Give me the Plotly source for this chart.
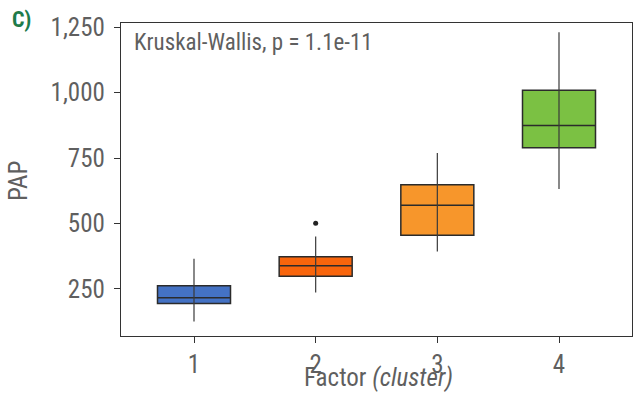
import plotly.graph_objects as go

clusters = [1, 2, 3, 4]
q1 = [194, 298, 455, 789]
median = [216, 338, 570, 874]
q3 = [262, 373, 648, 1009]
lower_whisker = [125, 236, 393, 632]
upper_whisker = [365, 450, 769, 1231]
fills = ["#4472C4", "#F8650C", "#F7962B", "#7BC143"]
outlier_x = [2]
outlier_y = [501]
y_ticks = [250, 500, 750, 1000, 1250]
y_tick_labels = ["250", "500", "750", "1,000", "1,250"]

FONT = "Roboto Condensed, Roboto, Arial"
GREY = "#5f5f5f"

fig = go.Figure()
for i, c in enumerate(clusters):
    fig.add_trace(go.Box(
        x=[c], q1=[q1[i]], median=[median[i]], q3=[q3[i]],
        lowerfence=[q1[i]], upperfence=[q3[i]],
        fillcolor=fills[i], line=dict(color="#2b2b2b", width=1.5),
        width=0.6, whiskerwidth=0, boxpoints=False, showlegend=False,
        hoverinfo="skip",
    ))
for i, c in enumerate(clusters):
    fig.add_trace(go.Scatter(
        x=[c, c], y=[lower_whisker[i], upper_whisker[i]], mode="lines",
        line=dict(color="#3a3a3a", width=1.2), showlegend=False, hoverinfo="skip",
    ))
fig.add_trace(go.Scatter(
    x=outlier_x, y=outlier_y, mode="markers",
    marker=dict(color="#222222", size=5), showlegend=False, hoverinfo="skip",
))

axis_common = dict(
    showgrid=False, zeroline=False, showline=True, linecolor="#333333", linewidth=1.2,
    mirror=True, ticks="outside", ticklen=6, tickcolor="#333333",
    tickfont=dict(size=25, color=GREY, family=FONT), automargin=False,
)

fig.update_layout(
    width=636, height=393,
    margin=dict(l=121, r=4, t=23, b=57),
    plot_bgcolor="white", paper_bgcolor="white",
    font=dict(family=FONT, color=GREY, size=24),
    xaxis=dict(range=[0.4, 4.6], tickvals=clusters, ticktext=[str(c) for c in clusters],
               **axis_common),
    yaxis=dict(range=[70, 1266], tickvals=y_ticks, ticktext=y_tick_labels,
               ticklabelstandoff=4, **axis_common),
    annotations=[
        dict(text="Kruskal-Wallis, p = 1.1e-11", xref="paper", yref="paper",
             x=0.0215, y=0.939, xanchor="left", yanchor="middle", showarrow=False,
             font=dict(size=23, color=GREY, family=FONT)),
        dict(text="<b>C)</b>", xref="paper", yref="paper", x=-0.2172, y=1.0115,
             xanchor="left", yanchor="middle", showarrow=False,
             font=dict(size=22, color="#1E7B4A", family=FONT)),
        dict(text="PAP", xref="paper", yref="paper", x=-0.2016, y=0.495,
             textangle=-90, xanchor="center", yanchor="middle", showarrow=False,
             font=dict(size=25, color=GREY, family=FONT)),
        dict(text="Factor <i>(cluster)</i>", xref="paper", yref="paper", x=0.503, y=-0.134,
             xanchor="center", yanchor="middle", showarrow=False,
             font=dict(size=25, color=GREY, family=FONT)),
    ],
)
fig.write_html("out.html", config={"displayModeBar": False},
               post_script="document.body.style.margin='0';document.body.style.overflow='hidden';")
